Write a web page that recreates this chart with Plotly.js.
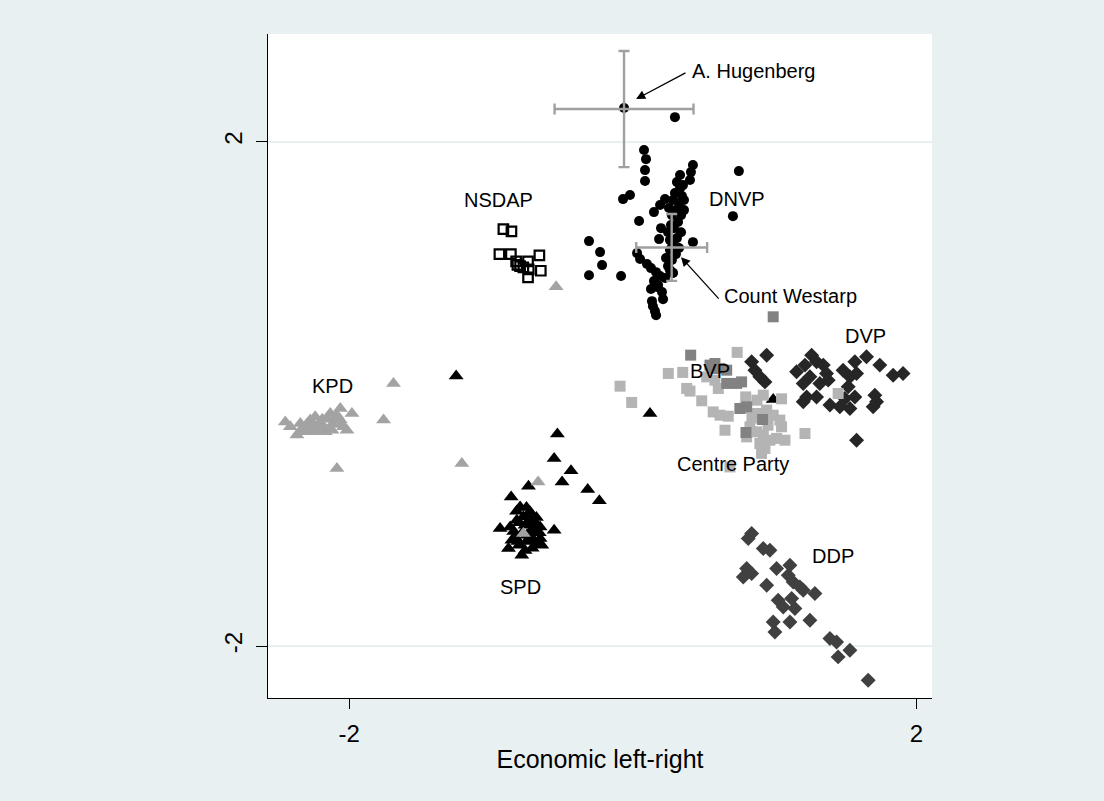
<!DOCTYPE html>
<html>
<head>
<meta charset="utf-8">
<script src="https://cdn.plot.ly/plotly-3.0.1.min.js"></script>
<style>
html,body{margin:0;padding:0;background:#e9f0f2;}
#chart{width:1104px;height:801px;}
</style>
</head>
<body>
<div id="chart"></div>
<script>
// ---- Data (economic left-right = x, second dimension = y) ----
const dnvpX = [-0.062,0.297,0.079,0.093,0.086,0.086,0.424,0.410,0.403,0.748,-0.069,-0.020,0.311,0.333,0.297,0.347,0.326,0.304,0.340,0.319,0.290,0.340,0.311,0.283,0.326,0.304,0.276,0.248,0.234,0.262,0.262,0.248,0.269,0.276,0.255,0.283,0.227,0.192,0.333,0.354,0.361,0.361,0.149,0.044,0.706,0.199,0.185,0.424,-0.309,-0.231,-0.217,-0.309,-0.083,0.030,0.051,0.100,0.128,0.164,0.192,0.149,0.178,0.227,0.262,0.283,0.128,0.171,0.213,0.142,0.164,0.156,0.135,0.206,0.276,0.282];
const dnvpY = [2.267,2.195,1.934,1.862,1.775,1.688,1.815,1.759,1.696,1.767,1.545,1.577,1.680,1.632,1.593,1.569,1.513,1.458,1.418,1.363,1.315,1.283,1.236,1.188,1.157,1.109,1.062,1.014,1.078,1.141,1.220,1.283,1.339,1.418,1.474,1.538,1.545,1.498,1.736,1.656,1.538,1.458,1.442,1.371,1.410,1.315,1.228,1.204,1.212,1.125,1.022,0.942,0.935,1.117,1.070,1.030,0.998,0.966,0.935,0.895,0.863,0.919,0.982,0.959,0.832,0.848,0.752,0.696,0.625,0.657,0.736,0.808,1.164,0.961];

const nsdapX = [-0.913,-0.856,-0.941,-0.860,-0.823,-0.795,-0.739,-0.734,-0.659,-0.649,-0.739,-0.772,-0.814];
const nsdapY = [1.307,1.289,1.109,1.109,1.051,1.013,1.051,0.988,1.099,0.977,0.924,1.004,1.024];

const kpdX = [-2.451,-1.688,-2.063,-1.981,-1.758,-2.087,-1.206,-2.345,-2.322,-2.369,-2.275,-2.240,-2.204,-2.157,-2.134,-2.099,-2.063,-2.040,-2.016,-2.122,-2.169,-2.263,-2.298,-2.228,-2.087,-2.416,-2.30,-2.25,-2.18,-2.12,-2.06,-2.19,-2.31,-2.35,-2.22,-0.541,-0.668,-0.772];
const kpdY = [-0.221,0.084,-0.115,-0.154,-0.207,-0.590,-0.551,-0.234,-0.287,-0.326,-0.207,-0.181,-0.234,-0.194,-0.154,-0.194,-0.207,-0.260,-0.287,-0.287,-0.300,-0.300,-0.273,-0.273,-0.168,-0.260,-0.24,-0.25,-0.26,-0.24,-0.24,-0.20,-0.29,-0.30,-0.29,0.850,-0.697,-1.106];

const spdX = [-0.532,-0.555,-0.436,-0.499,-0.736,-0.318,-0.236,-0.858,-0.936,-0.555,-0.795,-0.724,-0.818,-0.772,-0.701,-0.654,-0.865,-0.830,-0.748,-0.654,-0.642,-0.877,-0.783,-0.677,-0.853,-0.760,-0.717,-0.802,-0.710,-0.746,-0.689,-0.80,-0.74,-0.69,-0.84,-0.78,-0.72,-0.66,-0.81,-0.75,-0.70,-0.76,-0.82,-0.75,-0.68,-1.246,0.121,0.990];
const spdY = [-0.318,-0.511,-0.609,-0.697,-0.731,-0.757,-0.847,-0.816,-1.066,-1.080,-0.895,-0.935,-1.000,-0.974,-1.000,-1.054,-1.054,-1.133,-1.119,-1.146,-1.199,-1.225,-1.278,-1.185,-1.159,-1.040,-1.080,-1.199,-1.222,-0.961,-1.095,-1.02,-1.02,-1.03,-1.09,-1.10,-1.13,-1.10,-1.17,-1.17,-1.16,-1.24,-0.93,-0.90,-0.98,0.142,-0.154,-0.043];

const centreX = [0.736,0.250,0.352,-0.090,-0.008,0.380,0.403,0.486,0.521,0.579,0.603,0.567,0.615,0.673,0.650,0.796,0.920,1.049,0.873,0.944,0.990,1.037,1.049,0.826,0.873,0.920,0.967,1.014,1.073,0.803,0.896,0.932,0.908,1.214,0.685,1.448,0.784,0.840,0.953,0.875];
const centreY = [0.330,0.163,0.171,0.062,-0.067,0.044,0.023,-0.054,0.136,0.110,0.044,-0.142,-0.168,-0.176,-0.287,-0.023,-0.009,-0.038,-0.154,-0.128,-0.168,-0.207,-0.260,-0.260,-0.300,-0.326,-0.366,-0.352,-0.366,-0.340,-0.392,-0.432,-0.471,-0.313,-0.578,0.004,-0.112,-0.191,-0.247,-0.049];

const bvpX = [0.990,0.408,0.544,0.579,0.615,0.662,0.567,0.662,0.732,0.767,0.755,0.803,0.915,0.798];
const bvpY = [0.612,0.308,0.229,0.242,0.203,0.189,0.203,0.084,0.084,0.096,-0.115,-0.102,-0.202,-0.305];

const dvpX = [0.838,0.944,0.861,0.896,0.932,1.155,1.214,1.261,1.296,1.343,1.366,1.249,1.202,1.226,1.202,1.296,1.319,1.378,1.390,1.460,1.483,1.531,1.566,1.648,1.742,1.578,1.519,1.566,1.531,1.495,1.707,1.719,1.695,1.836,1.906,1.578];
const dvpY = [0.255,0.308,0.189,0.136,0.096,0.176,0.229,0.308,0.255,0.229,0.163,0.136,0.084,-0.023,-0.062,-0.023,0.084,0.110,-0.088,-0.102,0.189,0.136,0.255,0.295,0.229,0.163,0.057,-0.023,-0.115,-0.035,-0.009,-0.062,-0.102,0.149,0.163,-0.366];

const ddpX = [0.838,0.814,0.920,0.967,0.803,0.838,0.779,0.944,1.014,1.108,1.096,1.131,1.178,1.202,1.284,1.025,1.061,1.120,1.143,0.990,1.108,1.249,1.002,1.390,1.437,1.531,1.448,1.660];
const ddpY = [-1.106,-1.146,-1.225,-1.238,-1.383,-1.423,-1.450,-1.516,-1.383,-1.357,-1.437,-1.490,-1.529,-1.556,-1.582,-1.635,-1.688,-1.621,-1.701,-1.807,-1.807,-1.793,-1.886,-1.939,-1.966,-2.031,-2.084,-2.269];

// Individual leaders with uncertainty
const leaderNames = ["A. Hugenberg","Count Westarp"];
const leaderX = [-0.062, 0.274];
const leaderY = [2.259, 1.162];
const leaderErrX = [0.49, 0.25];
const leaderErrY = [0.46, 0.265];

// Party labels
const partyLabels = ["NSDAP","DNVP","BVP","DVP","KPD","Centre Party","SPD","DDP"];
const partyLabelX = [-0.949,0.734,0.544,1.643,-2.120,0.706,-0.795,1.411];
const partyLabelY = [1.537,1.545,0.181,0.459,0.062,-0.556,-1.532,-1.286];

// Leader label text positions and arrow endpoints
const leaderLabelX = [0.403, 0.629];
const leaderLabelY = [2.560, 0.776];
const arrowTailX = [0.382, 0.615];
const arrowTailY = [2.552, 0.744];
const arrowHeadX = [0.023, 0.340];
const arrowHeadY = [2.338, 1.085];

const xTicks = [-2, 2];
const yTicks = [-2, 2];

// ---- Traces ----
function mk(x, y, symbol, size, color) {
  return {
    type: 'scatter', mode: 'markers', x: x, y: y, hoverinfo: 'skip',
    marker: {symbol: symbol, size: size, color: color, line: {width: 0}}
  };
}
const traces = [
  mk(dnvpX, dnvpY, 'circle', 10, '#000000'),
  {type:'scatter', mode:'markers', x:nsdapX, y:nsdapY, hoverinfo:'skip',
   marker:{symbol:'square-open', size:9.5, color:'#000000', line:{width:2.2, color:'#000000'}}},
  mk(dvpX, dvpY, 'diamond', 11.5, '#262626'),
  mk(ddpX, ddpY, 'diamond', 11.5, '#404040'),
  mk(spdX, spdY, 'triangle-up', 13, '#000000'),
  mk(kpdX, kpdY, 'triangle-up', 13, '#a3a3a3'),
  mk(centreX, centreY, 'square', 11, '#b4b4b4'),
  mk(bvpX, bvpY, 'square', 11, '#828282'),
  {type:'scatter', mode:'markers', x:leaderX, y:leaderY, hoverinfo:'skip',
   marker:{size:1, color:'rgba(0,0,0,0)'},
   error_x:{type:'data', array:leaderErrX, color:'#a0a0a0', thickness:2.4, width:5.5},
   error_y:{type:'data', array:leaderErrY, color:'#a0a0a0', thickness:2.4, width:5.5}}
];

// ---- Annotations ----
const font = 'Liberation Sans, Arial, sans-serif';
const annotations = [];
partyLabels.forEach((t, i) => annotations.push({
  x: partyLabelX[i], y: partyLabelY[i], xref:'x', yref:'y', text: t,
  showarrow:false, xanchor:'center', yanchor:'middle',
  font:{family:font, size:20, color:'#000000'}
}));
leaderNames.forEach((t, i) => {
  annotations.push({
    x: leaderLabelX[i], y: leaderLabelY[i], xref:'x', yref:'y', text: t,
    showarrow:false, xanchor:'left', yanchor:'middle',
    font:{family:font, size:20, color:'#000000'}
  });
  annotations.push({
    x: arrowHeadX[i], y: arrowHeadY[i], xref:'x', yref:'y',
    ax: arrowTailX[i], ay: arrowTailY[i], axref:'x', ayref:'y',
    text:'', showarrow:true, arrowhead:2, arrowsize:1.4, arrowwidth:1.3,
    arrowcolor:'#000000', standoff:0, startstandoff:0
  });
});

const layout = {
  width: 1104, height: 801,
  paper_bgcolor: '#e9f0f2', plot_bgcolor: '#ffffff',
  margin: {l: 268, r: 172, t: 34, b: 103},
  showlegend: false,
  font: {family: font, color:'#000000'},
  xaxis: {
    range: [-2.573, 2.110], tickvals: xTicks, ticktext: xTicks.map(String),
    showgrid: false, zeroline: false, showline: true, linecolor:'#000000', linewidth:1,
    ticks:'outside', ticklen:10, tickwidth:1, tickcolor:'#000000',
    tickfont:{family:font, size:24, color:'#000000'}, ticklabelstandoff: 4,
    title:{text:'Economic left-right', font:{family:font, size:25, color:'#000000'}, standoff: 4}
  },
  yaxis: {
    range: [-2.410, 2.854], tickvals: yTicks, ticktext: yTicks.map(String),
    showgrid: true, gridcolor:'#e8f0f2', gridwidth:2,
    zeroline: false, showline: true, linecolor:'#000000', linewidth:1,
    ticks:'outside', ticklen:11, tickwidth:1, tickcolor:'#000000', tickangle:-90,
    tickfont:{family:font, size:24, color:'#000000'}, ticklabelstandoff: 4
  },
  annotations: annotations
};

Plotly.newPlot('chart', traces, layout, {displayModeBar:false, staticPlot:true});
</script>
</body>
</html>
